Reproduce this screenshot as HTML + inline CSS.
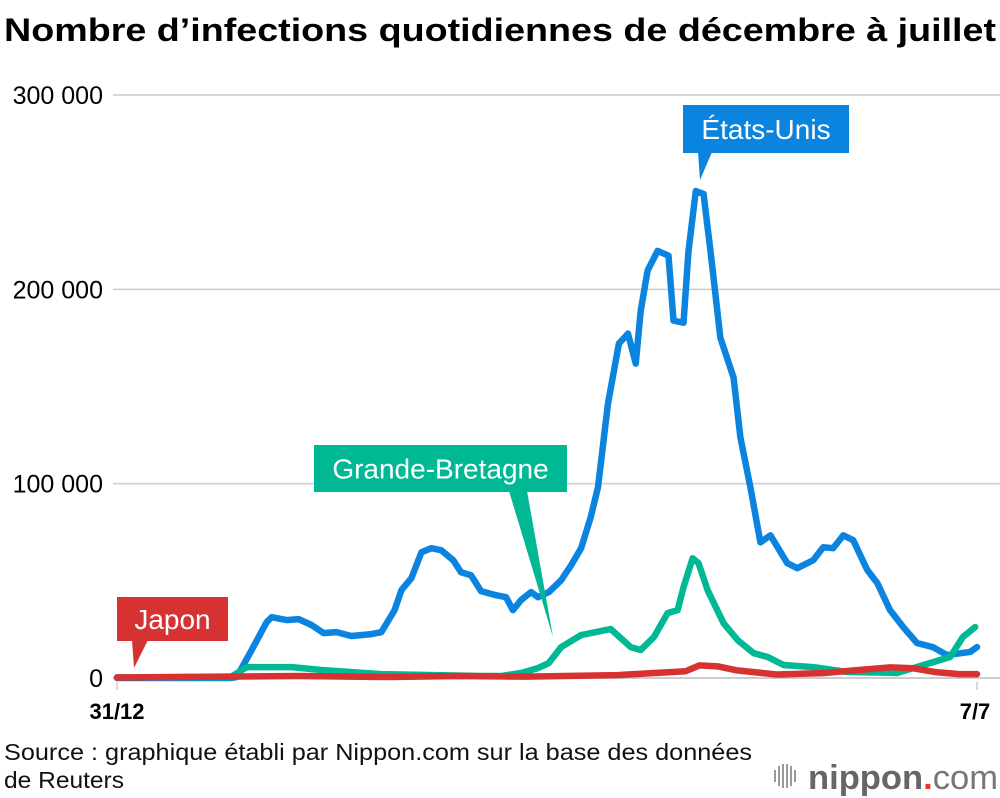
<!DOCTYPE html>
<html><head><meta charset="utf-8">
<style>
body{margin:0;width:1000px;height:798px;background:#fff;overflow:hidden;font-family:"Liberation Sans",Arial,sans-serif}
svg{display:block}
</style></head>
<body>
<svg id="chart" width="1000" height="798">
<text x="4" y="41" font-size="32" font-weight="bold" fill="#000" textLength="992" lengthAdjust="spacingAndGlyphs">Nombre d’infections quotidiennes de décembre à juillet</text>
<g id="grid"></g>
<g id="series"></g>
<g id="labels"></g>
<text x="117" y="719" font-size="22" font-weight="bold" text-anchor="middle">31/12</text>
<text x="975" y="719" font-size="22" font-weight="bold" text-anchor="middle">7/7</text>
<line x1="117" y1="682" x2="117" y2="690" stroke="#ccc" stroke-width="1.5"/>
<line x1="977" y1="682" x2="977" y2="690" stroke="#ccc" stroke-width="1.5"/>
<text x="4" y="760" font-size="23" fill="#111" textLength="748" lengthAdjust="spacingAndGlyphs">Source : graphique établi par Nippon.com sur la base des données</text>
<text x="4" y="788" font-size="23" fill="#111" textLength="120" lengthAdjust="spacingAndGlyphs">de Reuters</text>
<g>
<g stroke="#999" stroke-width="2">
<line x1="775" y1="770" x2="775" y2="782"/><line x1="779" y1="766" x2="779" y2="786"/><line x1="783" y1="764" x2="783" y2="788"/><line x1="787" y1="764" x2="787" y2="788"/><line x1="791" y1="766" x2="791" y2="786"/><line x1="795" y1="770" x2="795" y2="782"/>
</g>
<text x="808" y="789" font-size="34" fill="#666" font-weight="bold" textLength="190" lengthAdjust="spacingAndGlyphs">nippon<tspan fill="#e33">.</tspan><tspan font-weight="normal" fill="#777">com</tspan></text>
</g>
</svg>
<script>
const yTicks=[0,100,200,300];
const yTickLabels=["0","100 000","200 000","300 000"];
const usDays=[0,25,26.3,29.6,32.9,34,37.3,39.9,42.8,45.4,48.2,51.5,55.9,58.1,61,62.5,64.7,66.9,69.1,71.3,73.9,75.6,77.8,80,83.3,85.5,87,88.8,91,92.5,94.9,97.6,99.8,102,104.1,105.7,107.9,110.3,112.3,114,115.1,116.6,118.8,121.2,122.3,124.5,125.6,127.2,128.9,130.5,132.6,135.5,137,139.2,141.4,143.6,147.3,149.5,153,155.2,157.4,159.6,161.8,164.9,167.1,169.9,172.8,175.8,179.3,182.4,187.5,189];
const usValues=[0,0,0.5,14.4,28.8,31.3,29.8,30.3,27.2,23.1,23.6,21.6,22.6,23.6,34.9,45.2,51.4,64.7,66.8,65.7,60.6,54.4,52.9,44.7,42.6,41.6,34.9,40.1,44.2,41.6,44.2,50.3,58,66.8,82.7,98.1,141.2,172.1,177.2,161.8,189,209.6,219.8,217.3,183.9,182.8,219.8,250.6,249.1,218.3,175.1,154.6,123.8,98.1,69.8,73.4,59.1,56.5,60.6,67.3,66.8,73.4,70.9,55.5,48.8,34.9,26.2,18,15.9,11.8,13.4,15.9];
const ukDays=[0,25,28.5,38.4,44.9,58.1,80,84.4,88.8,92.5,94.9,97.6,102,108.5,112.9,115.1,118,121,123.2,124.5,126.5,127.8,129.8,133.3,136.4,139.9,143,146.5,153,160.5,171.5,178.7,183.1,185.9,188.6];
const ukValues=[0.3,0.5,5.6,5.6,4.1,2,1,1,2.6,5.1,7.7,15.9,22.1,25.2,15.9,14.4,21.1,33.4,34.9,46.7,61.6,59.1,45.2,28.2,19.5,12.8,10.8,6.7,5.6,3.1,2.6,7.7,10.8,21.1,26.2];
const jpDays=[0,40,60,75,90,110,125,128,132,136,145,155,165,170,175,180,185,189];
const jpValues=[0.3,1,0.5,1,0.7,1.5,3.5,6.5,6,4,1.8,2.5,4.5,5.5,5,3,2,2];
const X0=117,X1=977,DMAX=189,Y0=678,YTOP=95,VMAX=300;
const xs=d=>X0+(X1-X0)*d/DMAX;
const ys=v=>Y0-(Y0-YTOP)*v/VMAX;
const NS="http://www.w3.org/2000/svg";
const grid=document.getElementById('grid');
yTicks.forEach((t,i)=>{
 const l=document.createElementNS(NS,'line');
 l.setAttribute('x1',113);l.setAttribute('x2',1000);l.setAttribute('y1',ys(t));l.setAttribute('y2',ys(t));
 l.setAttribute('stroke',t===0?'#bbb':'#ccc');l.setAttribute('stroke-width',1.5);
 
 
 grid.appendChild(l);
 const tx=document.createElementNS(NS,'text');
 tx.setAttribute('x',103);tx.setAttribute('y',ys(t)+9);tx.setAttribute('text-anchor','end');
 tx.setAttribute('font-size',25);tx.textContent=yTickLabels[i];
 
 
 grid.appendChild(tx);
});
const ser=document.getElementById('series');
function draw(days,vals,color,name){
 const p=document.createElementNS(NS,'polyline');
 p.setAttribute('points',days.map((d,i)=>xs(d)+','+ys(vals[i])).join(' '));
 p.setAttribute('fill','none');p.setAttribute('stroke',color);p.setAttribute('stroke-width',6.5);
 p.setAttribute('stroke-linejoin','round');p.setAttribute('stroke-linecap','round');
 
 
 ser.appendChild(p);
}
draw(usDays,usValues,'#0b84e0','us-line');
draw(ukDays,ukValues,'#00b894','uk-line');
draw(jpDays,jpValues,'#d63232','japan-line');
const lab=document.getElementById('labels');
function label(x,y,w,h,tx,px,py,txt,color,name){
 const g=document.createElementNS(NS,'g');
 
 
 g.innerHTML=`<rect x="${x}" y="${y}" width="${w}" height="${h}" fill="${color}"/>
 <polygon points="${tx[0]},${y+h-1} ${tx[1]},${y+h-1} ${px},${py}" fill="${color}"/>
 <text x="${x+w/2}" y="${y+h/2+10}" font-size="28" fill="#fff" text-anchor="middle">${txt}</text>`;
 lab.appendChild(g);
}
label(117,597,111,44,[132,148],134,668,'Japon','#d63232','japan-label');
label(314,445,253,47,[509,527],553,637,'Grande-Bretagne','#00b894','uk-label');
label(683,105,166,48,[698,712],700,180,'États-Unis','#0b84e0','us-label');
</script>
</body></html>
